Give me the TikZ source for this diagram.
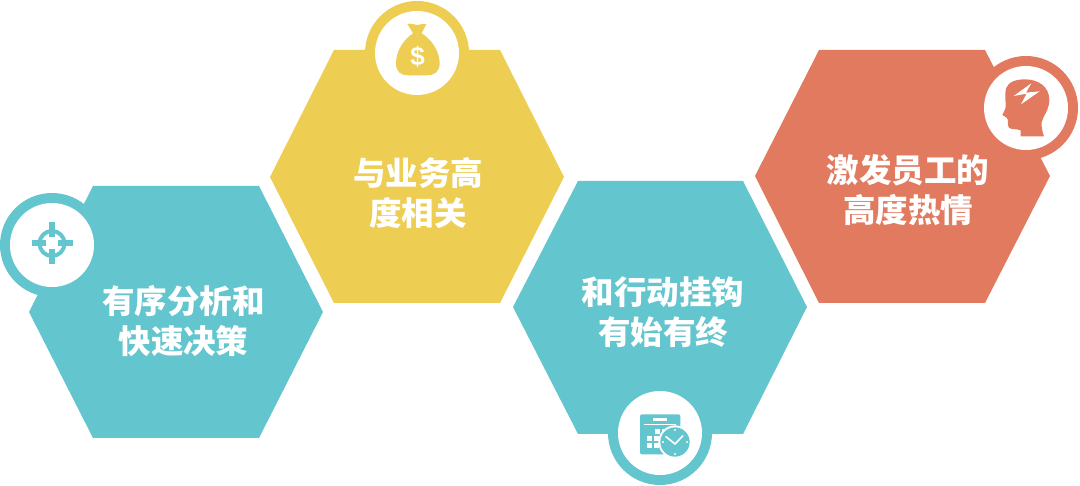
\documentclass[tikz,border=0pt]{standalone}
\usepackage{fontspec}
\newfontfamily\cjk{Noto Sans CJK SC}
\definecolor{tealc}{RGB}{99,197,205}
\definecolor{yelc}{RGB}{237,205,82}
\definecolor{redc}{RGB}{225,122,94}
\tikzset{
  hexlabel/.style={text=white,font=\cjk\bfseries\fontsize{32.5}{40}\selectfont,align=center,inner sep=0pt},
  ringo/.style={circle,minimum size=104pt,inner sep=0pt},
  ringi/.style={circle,fill=white,minimum size=84pt,inner sep=0pt},
  zoomed/.style={x=0.3333pt,y=-0.3333pt},
}
\begin{document}
\begin{tikzpicture}[x=1pt,y=-1pt]
\useasboundingbox (0,0) rectangle (1080,486);
\fill[white] (0,0) rectangle (1080,486);
% hexagons
\fill[tealc] (29,312) -- (93,186) -- (259,186) -- (323,312) -- (259,438) -- (93,438) -- cycle;
\fill[yelc] (270,177) -- (334,50) -- (500,50) -- (564,177) -- (500,303) -- (334,303) -- cycle;
\fill[tealc] (513,307) -- (578,181) -- (743,181) -- (807,307) -- (743,434) -- (578,434) -- cycle;
\fill[redc] (755,176) -- (819,50) -- (985,50) -- (1050,176) -- (985,303) -- (819,303) -- cycle;
% rings
\node[ringo,fill=tealc] (o1) at (52,245) {};
\node[ringi] (i1) at (52,245) {};
\node[ringo,fill=yelc] (o2) at (417,53) {};
\node[ringi] (i2) at (417,53) {};
\node[ringo,fill=tealc] (o3) at (660,433) {};
\node[ringi] (i3) at (660,433) {};
\node[ringo,fill=redc] (o4) at (1026,108) {};
\node[ringi] (i4) at (1026,108) {};
% target
\begin{scope}[shift={(52,243.5)}]
\draw[tealc,line width=4pt] (0,0) circle (12.5);
\draw[tealc,line width=6pt] (-20.5,0) -- (-6,0) (20.5,0) -- (6,0) (0,-21) -- (0,-6) (0,21) -- (0,6);
\end{scope}
% money bag
\begin{scope}[shift={(355,0)},zoomed]
\fill[yelc] (157,72) .. controls (170,68) and (178,76) .. (187,75) .. controls (196,76) and (204,68) .. (214,72)
  .. controls (210,82) and (204,90) .. (200,100) .. controls (225,115) and (254,150) .. (254,190)
  .. controls (254,218) and (235,226) .. (215,226) -- (160,226) .. controls (140,226) and (123,218) .. (123,190)
  .. controls (123,150) and (150,115) .. (174,100) .. controls (170,90) and (162,82) .. (157,72) -- cycle;
\node[text=white,font=\fontspec{Liberation Sans}\bfseries\fontsize{26}{26}\selectfont,inner sep=0pt] (dollar) at (188,169) {\$};
\end{scope}
% calendar + clock
\begin{scope}[shift={(600,376)},zoomed]
\fill[tealc,rounded corners=2pt] (120,115) rectangle (241,235);
\fill[white] (160,125) rectangle (202,134);
\fill[white] (132,144) rectangle (229,147);
\foreach \x in {141,163} \foreach \y in {179,201} {\fill[white] (\x,\y) rectangle +(15,15);}
\fill[white] (165,158) rectangle +(15,15);
\fill[white] (186,158) rectangle +(15,15);
\fill[white] (205,152) rectangle +(15,12);
\fill[white] (225,198) circle (50);
\fill[tealc] (225,198) circle (44);
\draw[white,line width=1.7pt,line cap=round] (198,182) -- (225,204) -- (248,180);
\foreach \a in {0,90,180,270} {\fill[white] (225,198) ++(\a:36) circle (3.5);}
\end{scope}
% head
\begin{scope}[shift={(970,45)},zoomed]
\fill[redc] (152,274) -- (152,256) .. controls (135,250) and (125,255) .. (117,248)
  .. controls (110,240) and (118,225) .. (110,218) -- (97,210)
  .. controls (100,200) and (108,192) .. (107,184)
  .. controls (107,165) and (104,150) .. (108,130)
  .. controls (115,110) and (140,103) .. (165,103)
  .. controls (205,103) and (238,125) .. (238,165)
  .. controls (238,195) and (218,215) .. (215,232)
  .. controls (214,250) and (218,262) .. (222,274) -- cycle;
\fill[white] (184,115) -- (131,153) -- (170,146) -- (153,178) -- (209,139) -- (168,143) -- cycle;
\end{scope}
% labels
\node[hexlabel] (t1) at (183.5,321.5) {有序分析和\\快速决策};
\node[hexlabel] (t2) at (418,193) {与业务高\\度相关};
\node[hexlabel] (t3) at (663,312) {和行动挂钩\\有始有终};
\node[hexlabel] (t4) at (908,190.5) {激发员工的\\高度热情};
\end{tikzpicture}
\end{document}
